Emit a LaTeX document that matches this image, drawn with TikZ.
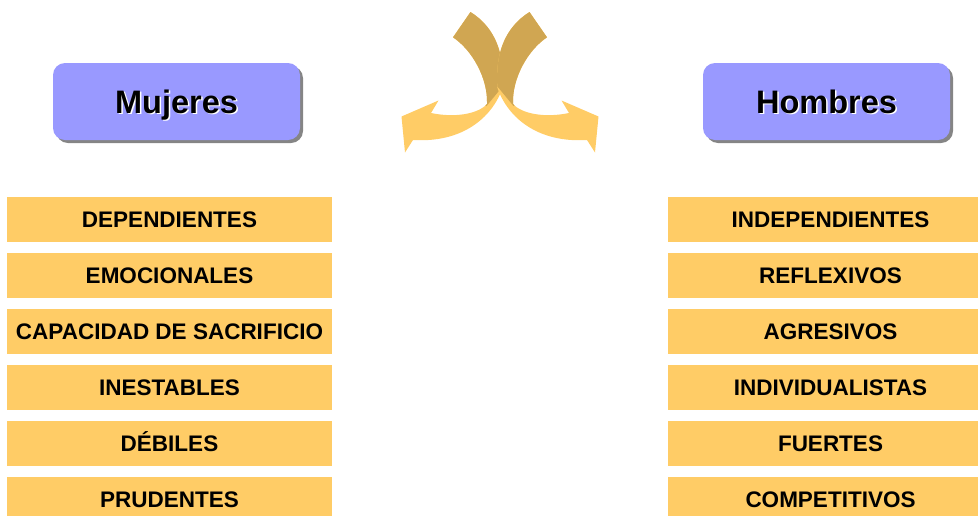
\documentclass[tikz,border=0pt]{standalone}
\usepackage{fontspec}
\setmainfont{Liberation Sans}
\usetikzlibrary{shadows}
\definecolor{barfill}{HTML}{FFCC66}
\definecolor{headfill}{HTML}{9999FF}
\definecolor{arrdark}{HTML}{D0A652}
\definecolor{arrlight}{HTML}{FFCC66}
\definecolor{shadowgrey}{HTML}{858585}
\tikzset{
  bartext/.style={anchor=base, inner sep=0pt, font=\fontsize{22.5}{27}\selectfont\bfseries},
  headtext/.style={anchor=base, inner sep=0pt, font=\fontsize{32.5}{38}\selectfont\bfseries},
  headbox/.style={fill=headfill, rounded corners=12pt, minimum width=247pt, minimum height=77pt, inner sep=0pt,
    drop shadow={shadow xshift=3pt, shadow yshift=-3pt, fill=shadowgrey, opacity=1}},
  barbox/.style={fill=barfill}
}
\newcommand\drawhook{%
  \fill[arrlight] (470.5,12) .. controls (496,28) and (505,55) .. (502.5,88)
    .. controls (492,118) and (462,143) .. (413,140)
    -- (405,152.5) -- (401.5,116.5) -- (438.5,100.5) -- (431,113)
    .. controls (455,118) and (478,114) .. (487,104)
    .. controls (488,78) and (472,50) .. (453,37.3) -- cycle;
  \begin{scope}
    \clip (400,-5) -- (503,-5) -- (503,86) -- (486.5,106) -- (470,95) -- (400,95) -- cycle;
    \fill[arrdark] (470.5,12) .. controls (496,28) and (505,55) .. (502.5,88)
      .. controls (492,118) and (462,143) .. (413,140)
      -- (405,152.5) -- (401.5,116.5) -- (438.5,100.5) -- (431,113)
      .. controls (455,118) and (478,114) .. (487,104)
      .. controls (488,78) and (472,50) .. (453,37.3) -- cycle;
  \end{scope}}
\begin{document}
\begin{tikzpicture}[x=1pt, y=-1pt]
\useasboundingbox (0,0) rectangle (978,515);
\clip (0,0) rectangle (978,515);
% hooks
\begin{scope}\drawhook\end{scope}
\begin{scope}[shift={(1000,0)}, xscale=-1]\drawhook\end{scope}
% headers
\node[headbox] (mbox) at (176.5,101.5) {};
\node[headtext, white] (mshadow) at (178,114.5) {Mujeres};
\node[headtext] (mtext) at (176.5,113) {Mujeres};
\node[headbox] (hbox) at (826.5,101.5) {};
\node[headtext, white] (hshadow) at (828,114.5) {Hombres};
\node[headtext] (htext) at (826.5,113) {Hombres};
% bars
\foreach \i/\lt/\rt in {0/DEPENDIENTES/INDEPENDIENTES, 1/EMOCIONALES/REFLEXIVOS,
    2/CAPACIDAD DE SACRIFICIO/AGRESIVOS, 3/INESTABLES/INDIVIDUALISTAS,
    4/DÉBILES/FUERTES, 5/PRUDENTES/COMPETITIVOS}{
  \pgfmathsetmacro\top{197+56*\i}
  \fill[barbox] (7,\top) rectangle (332,\top+45);
  \fill[barbox] (668,\top) rectangle (993,\top+45);
  \node[bartext] (l\i) at (169.5,\top+30.5) {\lt};
  \node[bartext] (r\i) at (830.5,\top+30.5) {\rt};
}
\end{tikzpicture}
\end{document}
